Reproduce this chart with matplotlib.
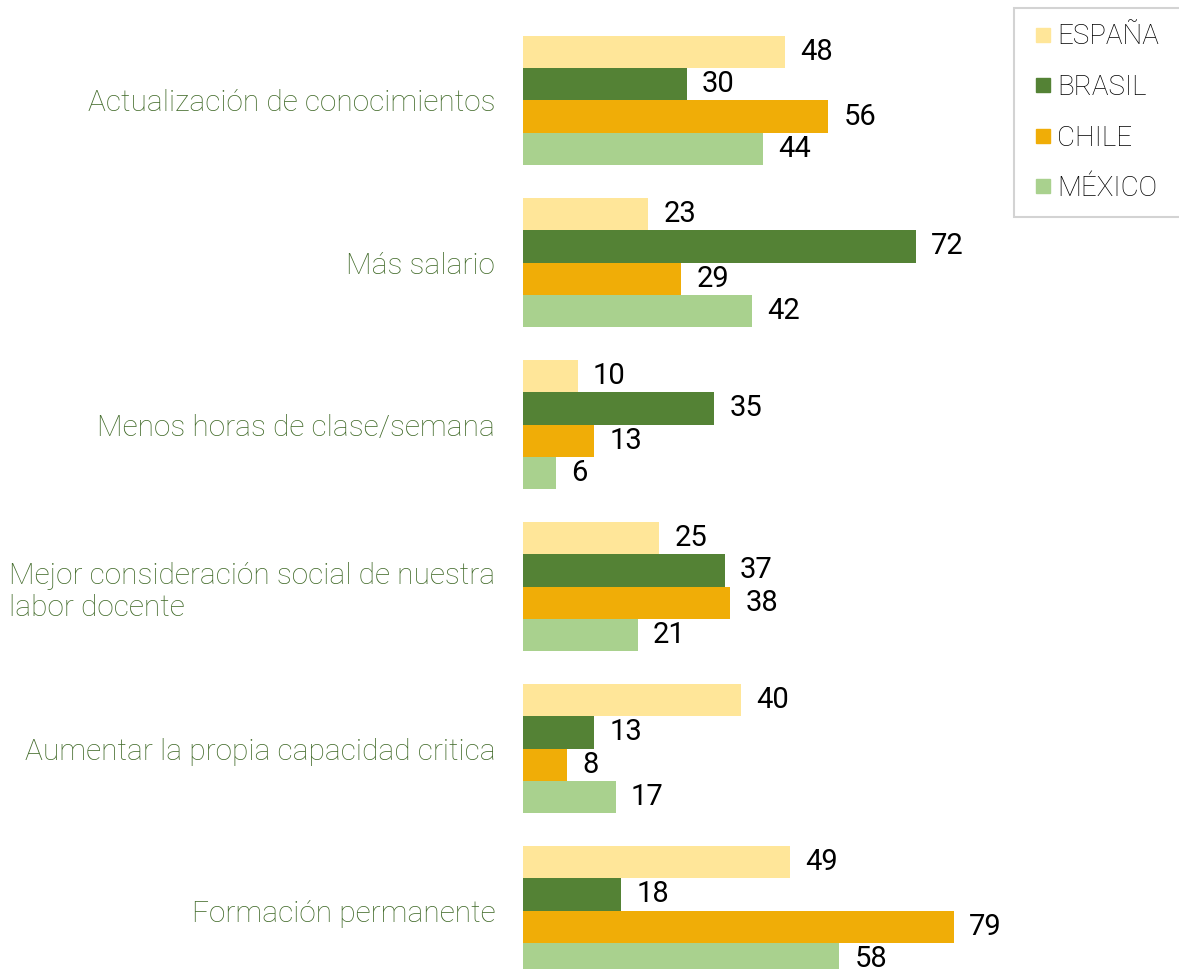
import numpy as np
import matplotlib.pyplot as plt
from matplotlib.lines import Line2D

categorias = ['Actualización de conocimientos', 'Más salario', 'Menos horas de clase/semana',
              'Mejor consideración social de nuestra\nlabor docente',
              'Aumentar la propia capacidad critica', 'Formación permanente']
paises = ['ESPAÑA', 'BRASIL', 'CHILE', 'MÉXICO']
espana = [48, 23, 10, 25, 40, 49]
brasil = [30, 72, 35, 37, 13, 18]
chile = [56, 29, 13, 38, 8, 79]
mexico = [44, 42, 6, 21, 17, 58]
colores = ['#FFE699', '#548235', '#F0AD07', '#A9D18E']

plt.rcParams['font.family'] = ['Roboto', 'DejaVu Sans']

fig = plt.figure(figsize=(11.79, 9.69), dpi=100, facecolor='w')
ax = fig.add_axes([523 / 1179, 0, 1 - 523 / 1179, 1])

y = np.arange(len(categorias))
h = 0.2
series = [espana, brasil, chile, mexico]
for i, (vals, nombre, c) in enumerate(zip(series, paises, colores)):
    bars = ax.barh(y - 0.3 + i * h, vals, height=h, color=c, label=nombre)
    ax.bar_label(bars, padding=11, fontsize=21, color='black')

ax.set_xlim(0, 120.3)
ax.set_ylim(5.36, -0.62)
ax.set_yticks(y)
ax.set_yticklabels(categorias, fontsize=21.5, color='#426b2a', fontweight='light',
                   multialignment='left')
ax.tick_params(axis='y', length=0, pad=20)
ax.set_xticks([])
for s in ax.spines.values():
    s.set_visible(False)

# legend box runs off the right edge like in the original
handles = [Line2D([], [], ls='none', marker='s', markersize=10, color=c, label=p)
           for p, c in zip(paises, colores)]
leg = fig.legend(handles=handles, loc='upper left',
                 bbox_to_anchor=(1014 / 1179, 1 - 8 / 969, 0.16, 0), mode='expand',
                 fontsize=20, frameon=True, fancybox=False, edgecolor='#c8c8c8',
                 handlelength=1.0, handletextpad=0.0, labelspacing=0.85,
                 borderpad=0.55, borderaxespad=0)
leg.get_frame().set_linewidth(1.5)
for t in leg.get_texts():
    t.set_fontweight('light')
    t.set_color('black')

fig.savefig('out.png', dpi=100)
